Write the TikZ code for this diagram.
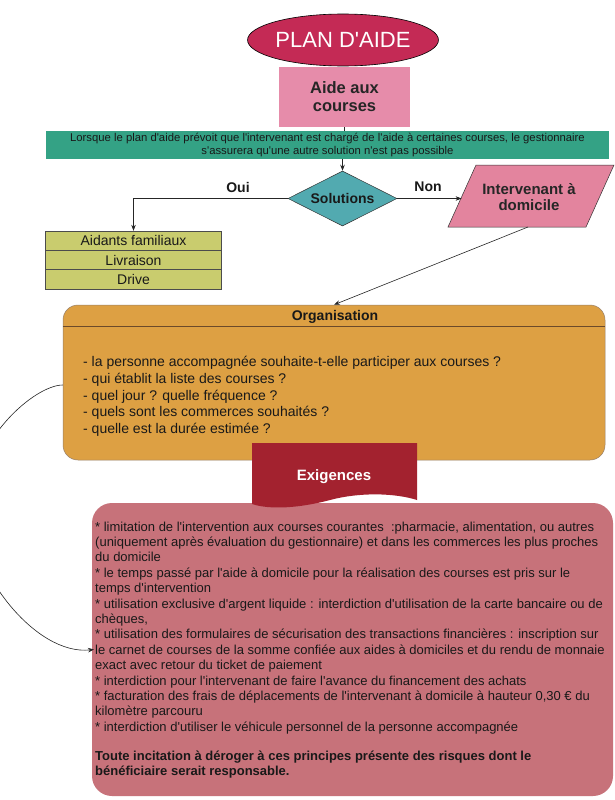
\documentclass[tikz,border=0pt]{standalone}
\usepackage{fontspec}
\setmainfont{Liberation Sans}[Ligatures=TeXOff]
\usetikzlibrary{shapes.geometric,arrows.meta,calc}
\definecolor{titlefill}{HTML}{C42A55}
\definecolor{aidefill}{HTML}{E68CAA}
\definecolor{tealbar}{HTML}{34A285}
\definecolor{diamfill}{HTML}{52AAB0}
\definecolor{intfill}{HTML}{E3849E}
\definecolor{tblfill}{HTML}{C9CC6E}
\definecolor{orgfill}{HTML}{DDA043}
\definecolor{orgline}{HTML}{6B4A2A}
\definecolor{banfill}{HTML}{A3222F}
\definecolor{exfill}{HTML}{C7727A}
\tikzset{
  conn/.style={draw=black!85, line width=0.6pt},
  arr/.style={conn, -{Stealth[length=6pt,width=4.5pt]}},
  lbl/.style={font=\fontsize{14}{16}\selectfont\bfseries, text=black!90},
  orgtxt/.style={anchor=base west, inner sep=0, font=\fontsize{14}{16}\selectfont, text=black!90},
  extxt/.style={anchor=base west, inner sep=0, font=\fontsize{13}{15}\selectfont, text=black!90},
  tblrow/.style={draw=black!70, line width=0.5pt, fill=tblfill, minimum width=176, minimum height=19.3, inner sep=0, font=\fontsize{14}{16}\selectfont, text=black!90},
}
\begin{document}
\begin{tikzpicture}[x=1pt,y=-1pt]
\useasboundingbox (0,0) rectangle (615,800);
\fill[white] (0,0) rectangle (615,800);

% title
\node[ellipse, draw=black, line width=0.6pt, fill=titlefill, minimum width=176, minimum height=52, inner sep=0, text=white, font=\fontsize{22}{26}\selectfont] (plan) at (343,40) {PLAN D'AIDE};

\node[fill=aidefill, minimum width=131, minimum height=60, inner sep=0, align=center, font=\fontsize{16.5}{18}\selectfont\bfseries, text=black!85] (aide) at (344.5,97) {Aide aux\\courses};

\node[fill=tealbar, minimum width=563, minimum height=28, inner sep=0, align=center, font=\fontsize{11.3}{13}\selectfont, text=black!90] (bar) at (327.5,145) {Lorsque le plan d'aide prévoit que l'intervenant est chargé de l'aide à certaines courses, le gestionnaire\\s'assurera qu'une autre solution n'est pas possible};

\draw[conn] (aide.south) -- (aide.south |- bar.north);

% decision
\node[diamond, aspect=2, draw=black!80, line width=0.5pt, fill=diamfill, minimum width=109, minimum height=55, inner sep=0, lbl] (sol) at (342.5,198.5) {Solutions};
\draw[arr] (bar.south -| sol.north) -- (sol.north);

\node[lbl] (oui) at (238,187) {Oui};
\node[lbl] (non) at (428,187) {Non};

% table
\node[tblrow] (tbl1) at (133.5,240.7) {Aidants familiaux};
\node[tblrow] (tbl2) at (133.5,260) {Livraison};
\node[tblrow] (tbl3) at (133.5,279.3) {Drive};
\draw[arr] (sol.west) -| (tbl1.north);

% parallelogram
\draw[draw=black!80, line width=0.5pt, fill=intfill] (476,165) -- (614,165) -- (586,227) -- (448,227) -- cycle;
\node[align=center, font=\fontsize{15}{16.5}\selectfont\bfseries, text=black!85] (interv) at (529,197) {Intervenant à\\domicile};
\coordinate (intL) at (461.6,198.5);
\coordinate (intB) at (528,227);
\draw[arr] (sol.east) -- (intL);

% organisation
\node[draw=orgline!70, line width=0.5pt, fill=orgfill, rounded corners=15, minimum width=542, minimum height=155, inner sep=0] (org) at (334,382.5) {};
\draw[orgline, line width=0.9pt] (org.west |- 0,326) -- (org.east |- 0,326);
\node[lbl] (orgtitle) at (335,317) {Organisation};
\draw[arr] (intB) -- (org.north);
\foreach \t [count=\i] in {
  {- la personne accompagnée souhaite-t-elle participer aux courses ?},
  {- qui établit la liste des courses ?},
  {- quel jour ? quelle fréquence ?},
  {- quels sont les commerces souhaités ?},
  {- quelle est la durée estimée ?}}
  \node[orgtxt] (org\i) at (83,{366.5+16.8*(\i-1)}) {\t};

% exigences box
\node[fill=exfill, rounded corners=20, minimum width=521, minimum height=293, inner sep=0] (exbox) at (352.5,649.5) {};
\fill[banfill] (252,443) -- (417,443) -- (417,500) .. controls (395,493) and (360,492) .. (330,500) .. controls (300,508) and (270,510) .. (252,504) -- cycle;
\node[text=white, font=\fontsize{15}{17}\selectfont\bfseries] (exig) at (334,477) {Exigences};

\foreach \t [count=\i] in {
  {* limitation de l'intervention aux courses courantes \ :pharmacie, alimentation, ou autres},
  {(uniquement après évaluation du gestionnaire) et dans les commerces les plus proches},
  {du domicile},
  {* le temps passé par l'aide à domicile pour la réalisation des courses est pris sur le},
  {temps d'intervention},
  {* utilisation exclusive d'argent liquide : interdiction d'utilisation de la carte bancaire ou de},
  {chèques,},
  {* utilisation des formulaires de sécurisation des transactions financières : inscription sur},
  {le carnet de courses de la somme confiée aux aides à domiciles et du rendu de monnaie},
  {exact avec retour du ticket de paiement},
  {* interdiction pour l'intervenant de faire l'avance du financement des achats},
  {* facturation des frais de déplacements de l'intervenant à domicile à hauteur 0,30 € du},
  {kilomètre parcouru},
  {* interdiction d'utiliser le véhicule personnel de la personne accompagnée}}
  \node[extxt] (ex\i) at (95,{531+15.4*(\i-1)}) {\t};
\node[extxt, font=\fontsize{13}{15}\selectfont\bfseries] (exb1) at (95,760) {Toute incitation à déroger à ces principes présente des risques dont le};
\node[extxt, font=\fontsize{13}{15}\selectfont\bfseries] (exb2) at (95,775.5) {bénéficiaire serait responsable.};

% left curved connector
\coordinate (cs) at (org.west |- 0,385);
\draw[arr] (cs) .. controls (35,385) and (-30,440) .. (-30,510) .. controls (-30,570) and (35,656) .. ([xshift=-1pt]ex9.west);
\end{tikzpicture}
\end{document}
